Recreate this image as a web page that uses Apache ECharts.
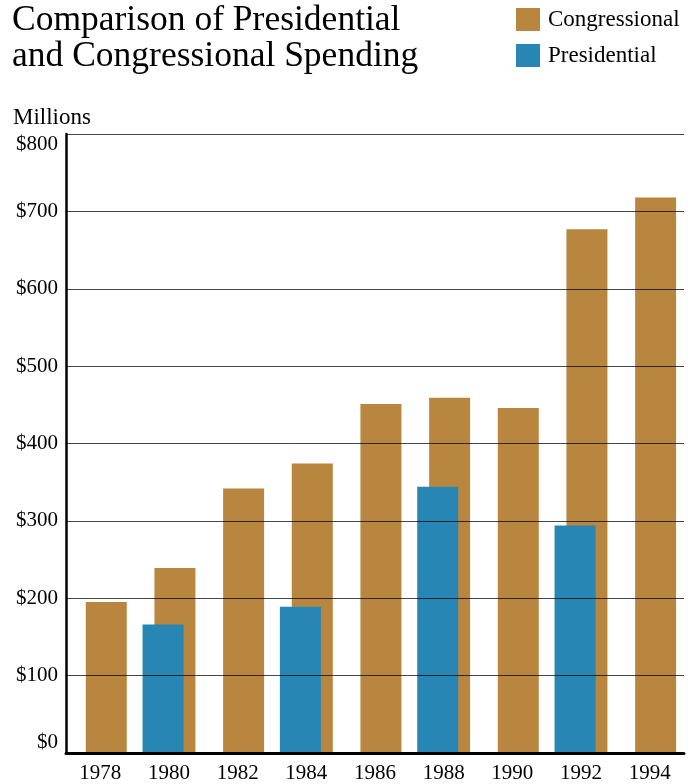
<!DOCTYPE html>
<html>
<head>
<meta charset="utf-8">
<script src="https://cdn.jsdelivr.net/npm/echarts@6/dist/echarts.min.js"></script>
<style>
html,body{margin:0;padding:0;background:#fff;}
#chart{width:694px;height:784px;}
</style>
</head>
<body>
<div id="chart"></div>
<script>
const years = ['1978','1980','1982','1984','1986','1988','1990','1992','1994'];
const congressional = [195, 239, 342, 374, 451, 459, 446, 677, 718];
const presidential = [null, 166, null, 189, null, 344, null, 294, null];
const yTicks = [0, 100, 200, 300, 400, 500, 600, 700, 800];

const FONT = 'Liberation Serif';
const chart = echarts.init(document.getElementById('chart'), null, {renderer: 'canvas'});
chart.setOption({
  backgroundColor: '#ffffff',
  animation: false,
  title: [
    {
      text: 'Comparison of Presidential\nand Congressional Spending',
      left: 12, top: 3, padding: 0,
      textStyle: {fontFamily: FONT, fontSize: 35.5, fontWeight: 'normal', color: '#000', lineHeight: 36}
    },
    {
      text: 'Millions',
      left: 13, top: 105, padding: 0,
      textStyle: {fontFamily: FONT, fontSize: 23, fontWeight: 'normal', color: '#000', lineHeight: 26}
    }
  ],
  legend: {
    data: ['Congressional', 'Presidential'],
    orient: 'vertical',
    left: 516, top: 8, padding: 0,
    itemWidth: 24, itemHeight: 23, itemGap: 13,
    icon: 'rect',
    textStyle: {fontFamily: FONT, fontSize: 23, color: '#000', padding: [0, 0, 0, 3]}
  },
  grid: {left: 66, right: 10, top: 134, bottom: 31, containLabel: false},
  xAxis: {
    type: 'category',
    data: years,
    z: 4,
    axisLine: {show: true, lineStyle: {color: '#000', width: 3}},
    axisTick: {show: false},
    axisLabel: {fontFamily: FONT, fontSize: 21, color: '#000', margin: 10}
  },
  yAxis: {
    type: 'value',
    min: yTicks[0], max: yTicks[yTicks.length - 1], interval: 100,
    z: 4,
    axisLine: {show: true, lineStyle: {color: '#000', width: 2.5}},
    axisTick: {show: false},
    splitLine: {show: true, lineStyle: {color: 'rgba(0,0,0,0.72)', width: 1}},
    axisLabel: {
      fontFamily: FONT, fontSize: 21, color: '#000', margin: 8,
      formatter: v => '$' + v,
      verticalAlignMaxLabel: 'top',
      verticalAlignMinLabel: 'bottom'
    }
  },
  series: [
    {
      name: 'Presidential', type: 'bar', data: presidential,
      barWidth: 41, barGap: '-71%', z: 3,
      itemStyle: {color: '#2886B4'}
    },
    {
      name: 'Congressional', type: 'bar', data: congressional,
      barWidth: 41, barGap: '-71%', z: 2,
      itemStyle: {color: '#B8863E'}
    }
  ]
});
</script>
</body>
</html>
